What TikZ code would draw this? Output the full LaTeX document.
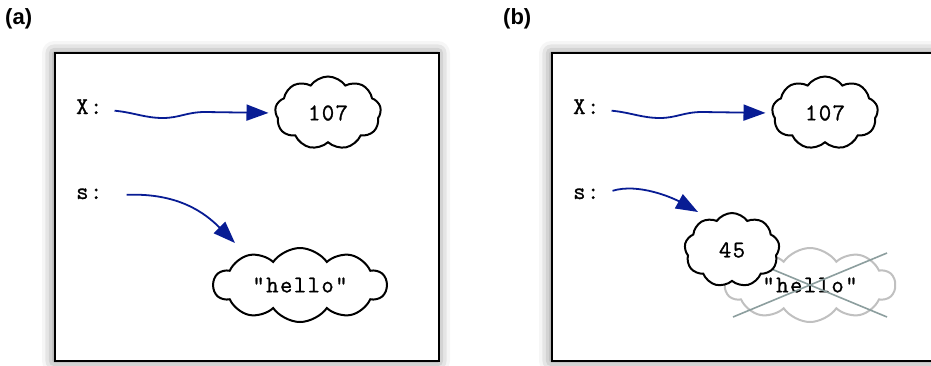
\documentclass[tikz,border=0pt]{standalone}
\usepackage{fontspec}
\setmainfont{Liberation Sans}
\setmonofont[LetterSpace=6,FakeBold=1]{Latin Modern Mono}
\usepackage{xcolor}
\usetikzlibrary{shapes,positioning,calc,arrows.meta}
\usetikzlibrary{shadows,shadows.blur}
\definecolor{ptrblue}{RGB}{8,28,148}
\definecolor{crossgray}{RGB}{140,158,158}
\definecolor{oldgray}{RGB}{192,192,192}

\begin{document}
\begin{tikzpicture}[x=1pt,y=-1pt,
	frame/.style={draw,line width=2pt,fill=white,
		blur shadow={shadow xshift=-1pt,shadow yshift=0pt,shadow blur radius=12pt,shadow opacity=55}},
	var/.style={font=\fontsize{24}{27}\ttfamily,inner sep=0pt,anchor=base west},
	val/.style={cloud,cloud puffs=9,cloud puff arc=110,cloud ignores aspect,draw,line width=2pt,fill=white,
		font=\fontsize{24}{27}\ttfamily,inner sep=0pt},
	ptr/.style={ptrblue,line width=1.8pt,-{Triangle[length=22pt,width=16pt]}},
	panel/.style={font=\bfseries\fontsize{22}{25}\selectfont,inner sep=0pt,anchor=base west}]

	\useasboundingbox (0,0) rectangle (931,365);

	% (a) x and s bound to their values
	\node[panel] (lbl_a) at (5,24) {(a)};
	\draw[frame] (55,53) rectangle (439,361);
	\node[var] (x_a) at (76,114) {X:};
	\node[var] (s_a) at (76,199) {s:};
	\node[val,minimum width=106pt,minimum height=73pt] (c_107a) at (328,113) {107};
	\node[val,cloud puffs=10,minimum width=173pt,minimum height=74pt] (c_hello) at (300,285) {"hello"};
	\coordinate (s_a_end) at ([shift={(-65,-42)}]c_hello.center);
	\draw[ptr,shorten >=6pt] ([shift={(12,4)}]x_a.east)
		.. controls +(20,2) and +(-18,0) .. (163,118)
		.. controls +(16,0) and +(-18,0) .. (205,112) -- (c_107a.west);
	\draw[ptr] ([shift={(24,1)}]s_a.east) .. controls +(52,-2) and +(-30,-30) .. (s_a_end);

	% (b) s rebound, old string crossed out
	\begin{scope}[xshift=497pt]
		\node[panel] (lbl_b) at (6,24) {(b)};
		\draw[frame] (55,53) rectangle (439,361);
		\node[var] (x_b) at (76,114) {X:};
		\node[var] (s_b) at (76,199) {s:};
		\node[val,minimum width=106pt,minimum height=73pt] (c_107b) at (328,113) {107};
		\node[val,cloud puffs=10,draw=oldgray,minimum width=170pt,minimum height=74pt] (c_old) at (313,285) {"hello"};
		\draw[crossgray,line width=1.6pt] ([shift={(-77,-32)}]c_old.center) -- ([shift={(77,32)}]c_old.center)
			([shift={(-77,32)}]c_old.center) -- ([shift={(77,-32)}]c_old.center);
		\node[val,minimum width=95pt,minimum height=74pt] (c_45) at (235,250) {45};
		\coordinate (s_b_end) at ([shift={(-34,-38)}]c_45.center);
		\draw[ptr,shorten >=6pt] ([shift={(12,4)}]x_b.east)
			.. controls +(20,2) and +(-18,0) .. (163,118)
			.. controls +(16,0) and +(-18,0) .. (205,112) -- (c_107b.west);
		\draw[ptr] ([shift={(13,-3)}]s_b.east) .. controls +(26,-8) and +(-25,-14) .. (s_b_end);
	\end{scope}
\end{tikzpicture}
\end{document}
